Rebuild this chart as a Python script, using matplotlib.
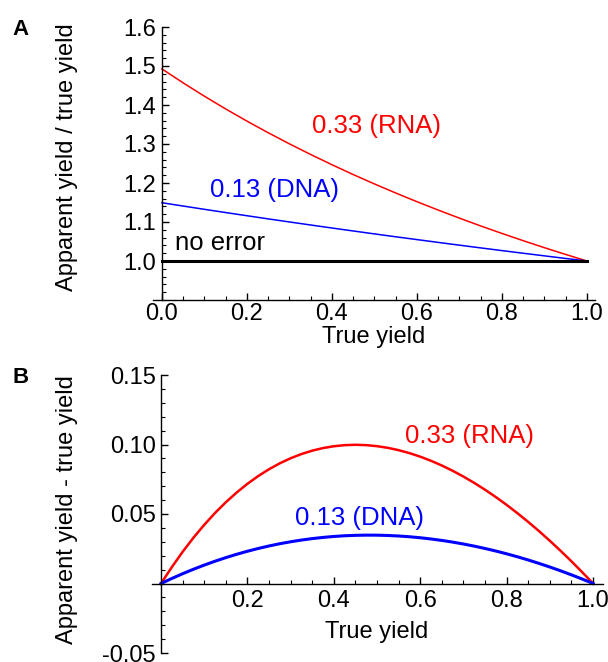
import matplotlib
matplotlib.use("Agg")
import matplotlib.pyplot as plt
from matplotlib.ticker import FixedLocator

plt.rcParams["font.family"] = ["Liberation Sans", "DejaVu Sans"]

# panel A: true yield (x) and apparent / true ratio
true_yield = [0.0, 0.05, 0.1, 0.15, 0.2, 0.25, 0.3, 0.35, 0.4, 0.45, 0.5,
              0.55, 0.6, 0.65, 0.7, 0.75, 0.8, 0.85, 0.9, 0.95, 1.0]
ratio_rna = [1.4925, 1.4567, 1.4225, 1.3899, 1.3587, 1.3289, 1.3004, 1.2731,
             1.2469, 1.2217, 1.1976, 1.1744, 1.1521, 1.1306, 1.1099, 1.0899,
             1.0707, 1.0521, 1.0341, 1.0168, 1.0]
ratio_dna = [1.1494, 1.1409, 1.1325, 1.1242, 1.1161, 1.1080, 1.1001, 1.0923,
             1.0846, 1.0770, 1.0695, 1.0621, 1.0549, 1.0477, 1.0406, 1.0336,
             1.0267, 1.0199, 1.0132, 1.0065, 1.0]
ratio_none = [1.0] * len(true_yield)

# panel B: apparent - true, on a finer grid
true_yield_b = [0.0, 0.025, 0.05, 0.075, 0.1, 0.125, 0.15, 0.175, 0.2, 0.225,
                0.25, 0.275, 0.3, 0.325, 0.35, 0.375, 0.4, 0.425, 0.45, 0.475,
                0.5, 0.525, 0.55, 0.575, 0.6, 0.625, 0.65, 0.675, 0.7, 0.725,
                0.75, 0.775, 0.8, 0.825, 0.85, 0.875, 0.9, 0.925, 0.95, 0.975, 1.0]
diff_rna = [0.0, 0.01186, 0.02283, 0.03295, 0.04225, 0.05075, 0.05848, 0.06547,
            0.07174, 0.07732, 0.08223, 0.08649, 0.09012, 0.09314, 0.09558, 0.09744,
            0.09875, 0.09953, 0.09979, 0.09954, 0.09880, 0.09759, 0.09592, 0.09380,
            0.09124, 0.08827, 0.08488, 0.08109, 0.07691, 0.07236, 0.06744, 0.06216,
            0.05653, 0.05056, 0.04427, 0.03765, 0.03071, 0.02347, 0.01594, 0.00811, 0.0]
diff_dna = [0.0, 0.00363, 0.00705, 0.01025, 0.01325, 0.01604, 0.01863, 0.02102,
            0.02321, 0.02521, 0.02701, 0.02862, 0.03003, 0.03126, 0.03230, 0.03316,
            0.03384, 0.03434, 0.03465, 0.03479, 0.03476, 0.03455, 0.03417, 0.03363,
            0.03291, 0.03203, 0.03098, 0.02978, 0.02841, 0.02688, 0.02519, 0.02335,
            0.02136, 0.01921, 0.01690, 0.01445, 0.01185, 0.00911, 0.00622, 0.00318, 0.0]

RED = "#ff0000"
BLUE = "#0000ff"
FS = 17      # ticks and axis labels
FS_CURVE = 18.5

fig = plt.figure(figsize=(6.08, 6.62), dpi=100)
W, H = 608.0, 662.0


def style_axes(ax, xpad):
    for s in ("top", "right"):
        ax.spines[s].set_visible(False)
    ax.spines["left"].set_position(("data", 0))
    for s in ("left", "bottom"):
        ax.spines[s].set_linewidth(1.0)
    ax.tick_params(which="both", direction="in", labelsize=FS)
    ax.tick_params(axis="y", pad=4)
    ax.tick_params(axis="x", pad=xpad)
    ax.tick_params(which="major", length=5, width=1)
    ax.tick_params(which="minor", length=3, width=0.8)
    ax.patch.set_visible(False)


# ---- Panel A ----
axA = fig.add_axes([153 / W, 1 - 300 / H, (595 - 153) / W, (300 - 27) / H])
style_axes(axA, 2)
axA.set_xlim(-0.021, 1.019)
axA.set_ylim(0.9, 1.6)
axA.plot(true_yield, ratio_rna, color=RED, lw=1.1)
axA.plot(true_yield, ratio_dna, color=BLUE, lw=1.1)
axA.plot(true_yield, ratio_none, color="black", lw=2.2)
axA.xaxis.set_major_locator(FixedLocator([0, 0.2, 0.4, 0.6, 0.8, 1.0]))
axA.xaxis.set_minor_locator(FixedLocator([0.05 * i for i in range(21)]))
axA.set_xticklabels(["0.0", "0.2", "0.4", "0.6", "0.8", "1.0"])
axA.yaxis.set_major_locator(FixedLocator([1.0, 1.1, 1.2, 1.3, 1.4, 1.5, 1.6]))
axA.yaxis.set_minor_locator(FixedLocator([0.9 + 0.02 * i for i in range(36)]))
axA.set_yticklabels(["1.0", "1.1", "1.2", "1.3", "1.4", "1.5", "1.6"])
axA.set_xlabel("True yield", fontsize=FS, labelpad=1)
axA.text(0.353, 1.328, "0.33 (RNA)", color=RED, fontsize=FS_CURVE, va="baseline")
axA.text(0.113, 1.164, "0.13 (DNA)", color=BLUE, fontsize=FS_CURVE, va="baseline")
axA.text(0.031, 1.028, "no error", color="black", fontsize=FS_CURVE, va="baseline")
fig.text(67 / W, 1 - 157 / H, "Apparent yield / true yield", rotation=90,
         ha="center", va="center", fontsize=FS)
fig.text(12 / W, 1 - 35 / H, "A", fontsize=16, fontweight="bold")

# ---- Panel B ----
axB = fig.add_axes([152 / W, 1 - 653 / H, (603 - 152) / W, (653 - 375) / H])
style_axes(axB, 5)
axB.spines["bottom"].set_position(("data", 0))
axB.set_xlim(-0.021, 1.023)
axB.set_ylim(-0.05, 0.15)
axB.plot(true_yield_b, diff_rna, color=RED, lw=1.8)
axB.plot(true_yield_b, diff_dna, color=BLUE, lw=2.2)
axB.xaxis.set_major_locator(FixedLocator([0.2, 0.4, 0.6, 0.8, 1.0]))
axB.xaxis.set_minor_locator(FixedLocator([0.05 * i for i in range(1, 21)]))
axB.set_xticklabels(["0.2", "0.4", "0.6", "0.8", "1.0"])
axB.yaxis.set_major_locator(FixedLocator([-0.05, 0.05, 0.10, 0.15]))
axB.yaxis.set_minor_locator(FixedLocator([-0.05 + 0.01 * i for i in range(21)]))
axB.set_yticklabels(["-0.05", "0.05", "0.10", "0.15"])
axB.text(0.565, 0.101, "0.33 (RNA)", color=RED, fontsize=FS_CURVE, va="baseline")
axB.text(0.31, 0.042, "0.13 (DNA)", color=BLUE, fontsize=FS_CURVE, va="baseline")
fig.text(377 / W, 1 - 632 / H, "True yield", ha="center", va="center", fontsize=FS)
fig.text(67 / W, 1 - 510 / H, "Apparent yield - true yield", rotation=90,
         ha="center", va="center", fontsize=FS)
fig.text(12 / W, 1 - 383 / H, "B", fontsize=16, fontweight="bold")

fig.savefig("out.png", dpi=100, facecolor="white")
